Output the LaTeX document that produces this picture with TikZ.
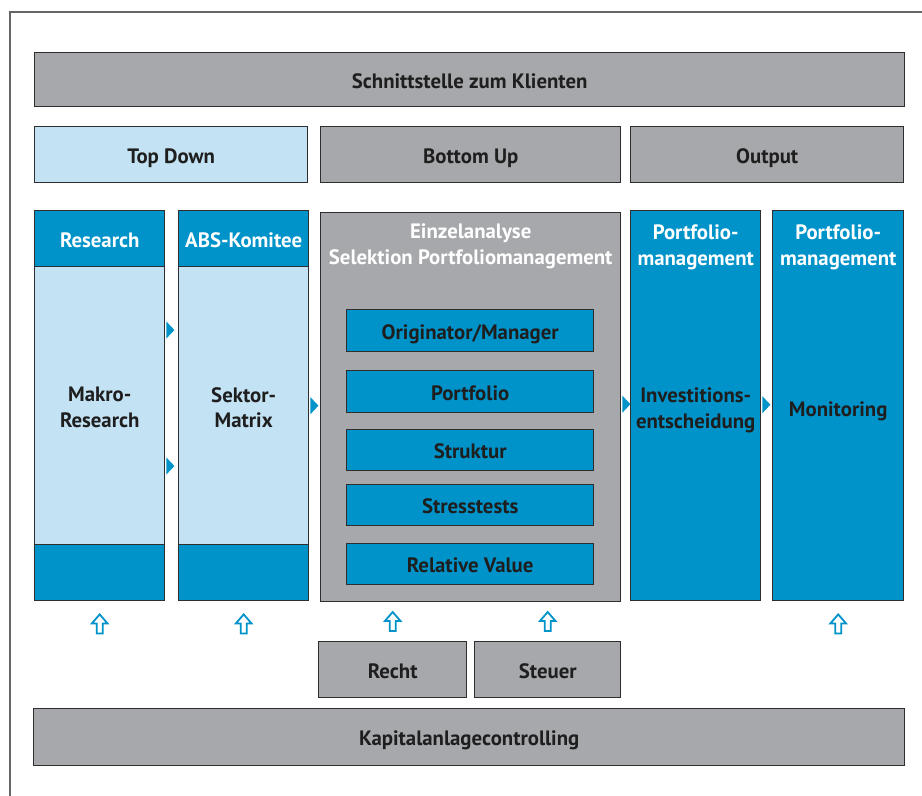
\documentclass[tikz,border=0pt]{standalone}
\usepackage{fontspec}
\setmainfont{PT Sans}
\usetikzlibrary{calc}
\definecolor{boxgray}{HTML}{A7A8AC}
\definecolor{deepblue}{HTML}{0093C9}
\definecolor{paleblue}{HTML}{C3E2F3}
\definecolor{edge}{HTML}{2E2E2E}
\definecolor{ink}{HTML}{1E1E1E}
\definecolor{framegray}{HTML}{666666}
\begin{document}
\begin{tikzpicture}[x=1pt,y=-1pt,
  font=\fontsize{20.8}{25.8}\selectfont\bfseries,
  cell/.style={draw=edge, line width=1.4pt, rectangle, inner sep=0pt,
    anchor=north west, align=center, text=ink},
  oneline/.style={text height=17.5pt, text depth=0pt},
  graybox/.style={cell, fill=boxgray},
  bluebox/.style={cell, fill=deepblue},
  palebox/.style={cell, fill=paleblue},
  whitetxt/.style={text=white, align=center, inner sep=0pt},
  darktxt/.style={text=ink, align=center, inner sep=0pt},
  tip/.pic={\fill[deepblue] (0,-8.5) -- (8,0) -- (0,8.5) -- cycle;},
  hollowup/.pic={\draw[deepblue, line width=1.8pt, fill=white, line join=miter]
    (0,0) -- (7.8,9) -- (3,9) -- (3,19) -- (-3,19) -- (-3,9) -- (-7.8,9) -- cycle;}
]
\useasboundingbox (0,0) rectangle (922,796);

% outer frame
\draw[framegray, line width=2pt] (10,796) -- (10,12) -- (922,12);

% top bars
\node[graybox, oneline, minimum width=870pt, minimum height=54pt] (client) at (34,52) {Schnittstelle zum Klienten};
\node[palebox, oneline, minimum width=273pt, minimum height=56pt] (topdown) at (34,126) {Top Down};
\node[graybox, oneline, minimum width=300pt, minimum height=56pt] (bottomup) at (320,126) {Bottom Up};
\node[graybox, oneline, minimum width=273pt, minimum height=56pt] (output) at (630,126) {Output};

% Research column
\node[bluebox, oneline, minimum width=130pt, minimum height=56pt, text=white] (reshead) at (34,210) {Research};
\node[palebox, minimum width=130pt, minimum height=278pt] (resbody) at (34,266) {};
\node[darktxt] (restext) at ($(resbody.center)+(0,2)$) {Makro-\\Research};
\node[bluebox, minimum width=130pt, minimum height=56pt] (resfoot) at (34,544) {};

% ABS column
\node[bluebox, oneline, minimum width=130pt, minimum height=56pt, text=white] (abshead) at (178,210) {ABS-Komitee};
\node[palebox, minimum width=130pt, minimum height=278pt] (absbody) at (178,266) {};
\node[darktxt] (abstext) at ($(absbody.center)+(0,2)$) {Sektor-\\Matrix};
\node[bluebox, minimum width=130pt, minimum height=56pt] (absfoot) at (178,544) {};

% single analysis block
\node[graybox, minimum width=300pt, minimum height=389pt] (einzel) at (320,212) {};
\node[whitetxt] (einzeltitle) at ($(einzel.north)+(0,34)$) {Einzelanalyse\\Selektion Portfoliomanagement};
\node[bluebox, oneline, minimum width=247pt, minimum height=42pt] (orig) at (346,309) {Originator/Manager};
\node[bluebox, oneline, minimum width=247pt, minimum height=42pt] (portf) at (346,370) {Portfolio};
\node[bluebox, oneline, minimum width=247pt, minimum height=41pt] (strukt) at (346,429) {Struktur};
\node[bluebox, oneline, minimum width=247pt, minimum height=41pt] (stress) at (346,484) {Stresstests};
\node[bluebox, oneline, minimum width=247pt, minimum height=41pt] (relval) at (346,543) {Relative Value};

% portfolio management columns
\node[bluebox, minimum width=130pt, minimum height=390pt] (pm1) at (630,210) {};
\node[whitetxt] (pm1head) at ($(pm1.north)+(0,37)$) {Portfolio-\\management};
\node[darktxt] (pm1body) at ($(pm1.center)+(0,4.5)$) {Investitions-\\entscheidung};
\node[bluebox, minimum width=131pt, minimum height=390pt] (pm2) at (772,210) {};
\node[whitetxt] (pm2head) at ($(pm2.north)+(0,37)$) {Portfolio-\\management};
\node[darktxt, oneline] (pm2body) at ($(pm2.center)+(0,2)$) {Monitoring};

% flow tips between columns
\pic at ($(resbody.north east)+(1,64)$) {tip};
\pic at ($(resbody.north east)+(1,200)$) {tip};
\pic at ($(absbody.east)+(1,0)$) {tip};
\pic at ($(einzel.east)+(1,-3)$) {tip};
\pic at ($(pm1.east)+(1,-1)$) {tip};

% legal and tax
\node[graybox, oneline, minimum width=148pt, minimum height=56pt] (recht) at (318,641) {Recht};
\node[graybox, oneline, minimum width=146pt, minimum height=56pt] (steuer) at (474,641) {Steuer};

% controlling bar
\node[graybox, oneline, minimum width=871pt, minimum height=57pt] (control) at (33,708) {Kapitalanlagecontrolling};

% inputs from below
\pic at ($(resfoot.south)+(0,13)$) {hollowup};
\pic at ($(absfoot.south)+(0,13)$) {hollowup};
\pic at ($(recht.north)+(0,-29)$) {hollowup};
\pic at ($(steuer.north)+(0,-29)$) {hollowup};
\pic at ($(pm2.south)+(0,13)$) {hollowup};
\end{tikzpicture}
\end{document}
